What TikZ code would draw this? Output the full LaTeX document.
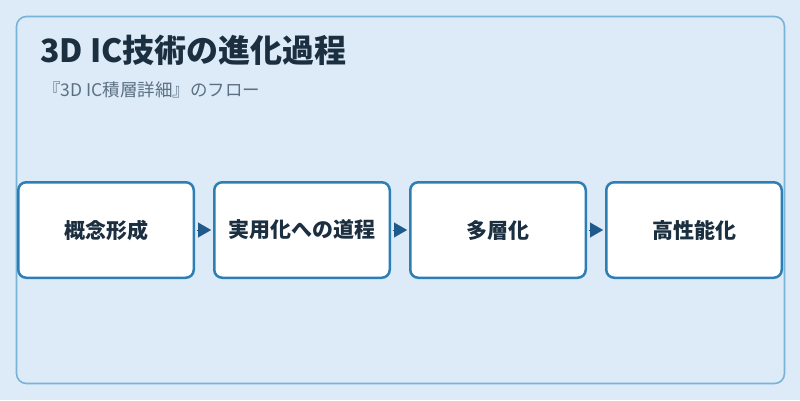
\documentclass[tikz,border=0pt]{standalone}
\usepackage{fontspec}
\setmainfont{Noto Sans CJK JP}
\usetikzlibrary{arrows.meta}
\definecolor{bgc}{HTML}{DCEBF7}
\definecolor{framec}{HTML}{7AB3D8}
\definecolor{boxc}{HTML}{2E7EB6}
\definecolor{arrc}{HTML}{1F5A8A}
\definecolor{titlec}{HTML}{1B2F40}
\definecolor{subc}{HTML}{5B7083}
\tikzset{
  stepbox/.style={draw=boxc, line width=2.5pt, fill=white, rounded corners=8pt,
    minimum width=175.5pt, minimum height=95.5pt, outer sep=1.25pt, inner sep=0pt,
    font=\fontsize{21}{24}\selectfont\bfseries, text=titlec},
  flowarrow/.style={draw=arrc, line width=0.1pt, -{Triangle[length=13pt,width=15pt]}, fill=arrc, shorten <=1.5pt, shorten >=2pt}
}
\begin{document}
\begin{tikzpicture}[x=1pt,y=-1pt]
\useasboundingbox[fill=bgc] (0,0) rectangle (800,400);
\draw[framec, line width=1.6pt, rounded corners=10pt] (16.5,16.5) rectangle (784.5,383.5);
\node[anchor=base west, font=\fontsize{32}{36}\selectfont\bfseries, text=titlec, inner sep=0pt] (title) at (40,62) {3D IC技術の進化過程};
\node[anchor=base west, font=\fontsize{17.5}{20}\selectfont, text=subc, inner sep=0pt] (sub) at (43,96) {『3D IC積層詳細』のフロー};
\node[stepbox] (b1) at (106,230) {概念形成};
\node[stepbox] (b2) at (302,230) {実用化への道程};
\node[stepbox] (b3) at (498,230) {多層化};
\node[stepbox] (b4) at (694,230) {高性能化};
\draw[flowarrow] (b1.east) -- (b2.west);
\draw[flowarrow] (b2.east) -- (b3.west);
\draw[flowarrow] (b3.east) -- (b4.west);
\end{tikzpicture}
\end{document}
